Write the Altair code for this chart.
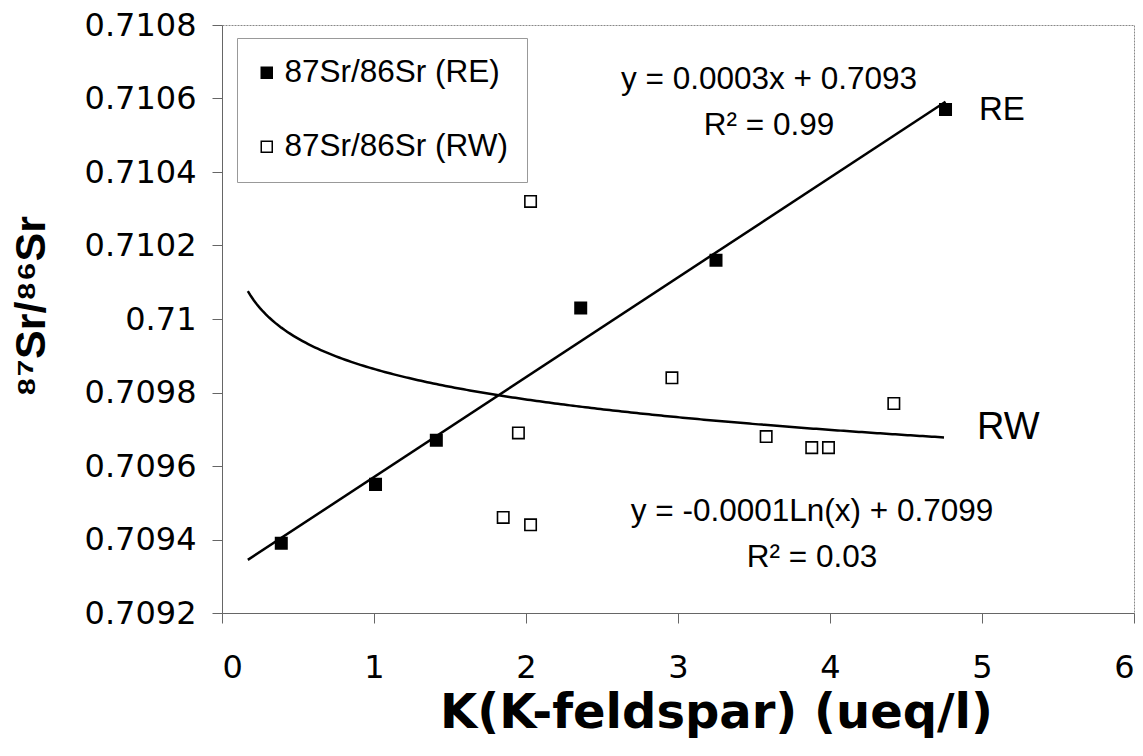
import altair as alt
import pandas as pd

# Measured 87Sr/86Sr ratios against K released by K-feldspar weathering
series_names = ["87Sr/86Sr (RE)", "87Sr/86Sr (RW)"]

re_k = [0.39, 1.01, 1.41, 2.36, 3.25, 4.76]
re_sr = [0.70939, 0.70955, 0.70967, 0.71003, 0.71016, 0.71057]

rw_k = [2.03, 2.96, 1.95, 3.58, 3.88, 3.99, 4.42, 1.85, 2.03]
rw_sr = [0.71032, 0.70984, 0.70969, 0.70968, 0.70965, 0.70965, 0.70977, 0.70946, 0.70944]

# Logarithmic trend for RW: y = a + b*ln(x)
rw_trend_a = 0.709864
rw_trend_b = -0.0001195
trend_extent = [0.17, 4.76]

x_ticks = [0, 1, 2, 3, 4, 5, 6]
y_ticks = [0.7092, 0.7094, 0.7096, 0.7098, 0.71, 0.7102, 0.7104, 0.7106, 0.7108]

eq_re = ["y = 0.0003x + 0.7093", "R\u00b2 = 0.99"]
eq_rw = ["y = -0.0001Ln(x) + 0.7099", "R\u00b2 = 0.03"]
end_labels = ["RE", "RW"]

FONT = "Liberation Sans"
WIDE = "DejaVu Sans"

pts = pd.DataFrame({
    "k": re_k + rw_k,
    "sr": re_sr + rw_sr,
    "series": [series_names[0]] * len(re_k) + [series_names[1]] * len(rw_k),
})
re_df = pd.DataFrame({"k": re_k, "sr": re_sr})

x_scale = alt.Scale(domain=[0, 6], nice=False, zero=False)
y_scale = alt.Scale(domain=[0.7092, 0.7108], nice=False, zero=False)

x_enc = alt.X(
    "k:Q", scale=x_scale,
    axis=alt.Axis(
        values=x_ticks, format="d", title="K(K-feldspar) (ueq/l)",
        labelPadding=29,
        titleX=494, titleY=100, titleAlign="center", titleBaseline="middle",
        titleFont=WIDE, titleFontSize=48, titleFontWeight="bold",
    ),
)
y_enc = alt.Y(
    "sr:Q", scale=y_scale,
    axis=alt.Axis(
        values=y_ticks, format=".4~f", title="\u2078\u2077Sr/\u2078\u2076Sr",
        labelPadding=16,
        titleX=-191, titleY=281, titleAngle=270, titleAlign="center",
        titleBaseline="middle", titleFont=FONT, titleFontSize=43,
        titleFontWeight="bold",
    ),
)

# Linear trend through the RE points
re_line = alt.Chart(re_df).transform_regression(
    "k", "sr", method="linear", extent=trend_extent
).mark_line(color="black", strokeWidth=2.5).encode(x=x_enc, y=y_enc)

# Logarithmic trend for the RW points
rw_line = alt.Chart(alt.sequence(trend_extent[0], trend_extent[1] + 0.005, 0.02, as_="k")).transform_calculate(
    sr=f"{rw_trend_a} + ({rw_trend_b}) * log(datum.k)"
).mark_line(color="black", strokeWidth=2.5).encode(x=x_enc, y=y_enc)

points = alt.Chart(pts).mark_point(
    shape="square", size=130, strokeWidth=1.6, opacity=1, stroke="black"
).encode(
    x=x_enc, y=y_enc,
    fill=alt.Fill(
        "series:N",
        scale=alt.Scale(domain=series_names, range=["black", "white"]),
        legend=alt.Legend(title=None),
    ),
)


def note(txt, px, py, align="center", size=31.5):
    return alt.Chart(alt.Data(values=[{"label": txt}])).mark_text(
        font=FONT, fontSize=size, color="black", align=align, baseline="middle"
    ).encode(text="label:N", x=alt.value(px), y=alt.value(py))


notes = [
    note(eq_re[0], 547, 55),
    note(eq_re[1], 547, 101),
    note(eq_rw[0], 590, 487),
    note(eq_rw[1], 590, 533),
    note(end_labels[0], 757, 85, align="left", size=33),
    note(end_labels[1], 755, 403, align="left", size=38),
]

chart = alt.layer(re_line, rw_line, points, *notes).properties(
    width=912, height=588,
    autosize=alt.AutoSizeParams(type="none"),
    padding={"left": 222, "top": 25, "right": 9, "bottom": 143},
    background="white",
).configure_view(
    stroke="#888888", strokeWidth=1, strokeDash=[2, 1]
).configure_axis(
    labelFont=WIDE, titleFont=FONT, labelFontSize=32, labelColor="black",
    titleColor="black", grid=False, domainColor="#666666", tickColor="#666666",
    tickSize=10, domainWidth=1, tickWidth=1,
).configure_legend(
    orient="none", legendX=15, legendY=13, direction="vertical",
    padding=19, strokeColor="#999999", fillColor="white",
    labelFont=FONT, labelFontSize=31.5, labelColor="black", labelLimit=400,
    symbolType="square", symbolSize=121, symbolStrokeColor="black",
    symbolStrokeWidth=1.5, rowPadding=41, labelOffset=2, symbolOffset=-5,
)

chart.save("out.html", embed_options={"renderer": "svg", "actions": False})
